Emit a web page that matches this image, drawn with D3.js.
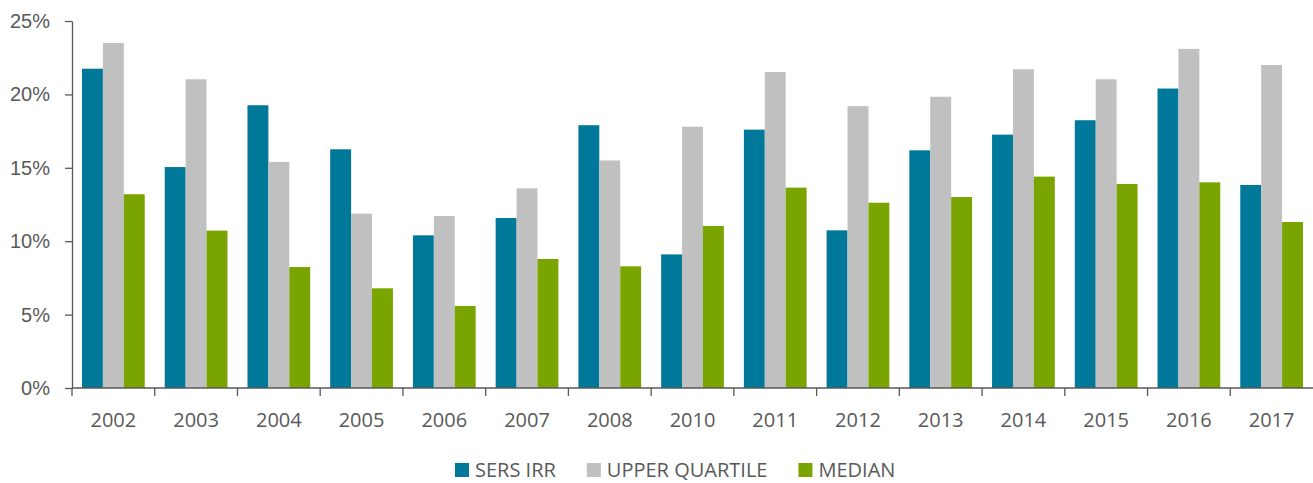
<!DOCTYPE html>
<html>
<head>
<meta charset="utf-8">
<script src="https://cdn.jsdelivr.net/npm/d3@7"></script>
<style>
  body { margin: 0; background: #fff; }
  svg { display: block; font-family: "Open Sans", sans-serif; }
  .axis text { fill: #595959; font-size: 20px; }
  .axis path, .axis line { stroke: #595959; stroke-width: 1.3; }
</style>
</head>
<body>
<svg id="chart"></svg>
<script>
const years = ['2002', '2003', '2004', '2005', '2006', '2007', '2008', '2010',
               '2011', '2012', '2013', '2014', '2015', '2016', '2017'];
const seriesNames = ['SERS IRR', 'UPPER QUARTILE', 'MEDIAN'];
const sersIrr = [21.75, 15.05, 19.26, 16.26, 10.4, 11.58, 17.9, 9.1,
                 17.6, 10.74, 16.19, 17.26, 18.24, 20.4, 13.83];
const upperQuartile = [23.5, 21.03, 15.4, 11.88, 11.72, 13.6, 15.5, 17.8,
                       21.53, 19.2, 19.84, 21.71, 21.03, 23.1, 22.0];
const median = [13.2, 10.72, 8.24, 6.79, 5.59, 8.79, 8.29, 11.04,
                13.65, 12.62, 13.01, 14.4, 13.9, 14.01, 11.31];
const yTicks = [0, 5, 10, 15, 20, 25];
const colors = ['#00789a', '#bfc0bf', '#7aa500'];

const width = 1313, height = 483;
const margin = { top: 21, right: 0, bottom: 95, left: 72 };

const svg = d3.select('#chart')
  .attr('width', width)
  .attr('height', height);

const x0 = d3.scaleBand()
  .domain(years)
  .range([margin.left, width - margin.right]);

const x1 = d3.scaleBand()
  .domain(seriesNames)
  .range([10, x0.bandwidth() - 10]);

const y = d3.scaleLinear()
  .domain([0, 25])
  .range([height - margin.bottom, margin.top]);

const rows = years.map((yr, i) => ({
  year: yr,
  values: [sersIrr[i], upperQuartile[i], median[i]]
}));

// bars
const groups = svg.append('g')
  .selectAll('g')
  .data(rows)
  .join('g')
  .attr('transform', d => `translate(${x0(d.year)},0)`);

groups.selectAll('rect')
  .data(d => d.values.map((v, k) => ({ key: seriesNames[k], value: v, k: k })))
  .join('rect')
  .attr('x', d => x1(d.key))
  .attr('width', x1.bandwidth())
  .attr('y', d => y(d.value))
  .attr('height', d => y(0) - y(d.value))
  .attr('fill', d => colors[d.k]);

// y axis
svg.append('g')
  .attr('class', 'axis')
  .attr('transform', `translate(${margin.left},0)`)
  .call(d3.axisLeft(y)
    .tickValues(yTicks)
    .tickFormat(d => d + '%')
    .tickSize(7)
    .tickSizeOuter(0)
    .tickPadding(15));

// x axis, ticks sit on band boundaries
const xAxis = svg.append('g')
  .attr('class', 'axis')
  .attr('transform', `translate(0,${y(0)})`);

xAxis.append('line')
  .attr('x1', margin.left)
  .attr('x2', width)
  .attr('y1', 0)
  .attr('y2', 0);

xAxis.selectAll('.tick-mark')
  .data(years)
  .join('line')
  .attr('class', 'tick-mark')
  .attr('x1', d => x0(d))
  .attr('x2', d => x0(d))
  .attr('y1', 0)
  .attr('y2', 8);

xAxis.selectAll('.tick-label')
  .data(years)
  .join('text')
  .attr('class', 'tick-label')
  .attr('x', d => x0(d) + x0.bandwidth() / 2)
  .attr('y', 39)
  .attr('text-anchor', 'middle')
  .text(d => d);

// legend
const legend = svg.append('g')
  .attr('class', 'axis')
  .attr('transform', 'translate(455,463)');

let offset = 0;
seriesNames.forEach((name, k) => {
  const item = legend.append('g').attr('transform', `translate(${offset},0)`);
  item.append('rect')
    .attr('width', 14)
    .attr('height', 14)
    .attr('fill', colors[k]);
  const t = item.append('text')
    .attr('x', 20)
    .attr('y', 13.5)
    .text(name);
  offset += 20 + t.node().getComputedTextLength() + 31;
});
</script>
</body>
</html>
